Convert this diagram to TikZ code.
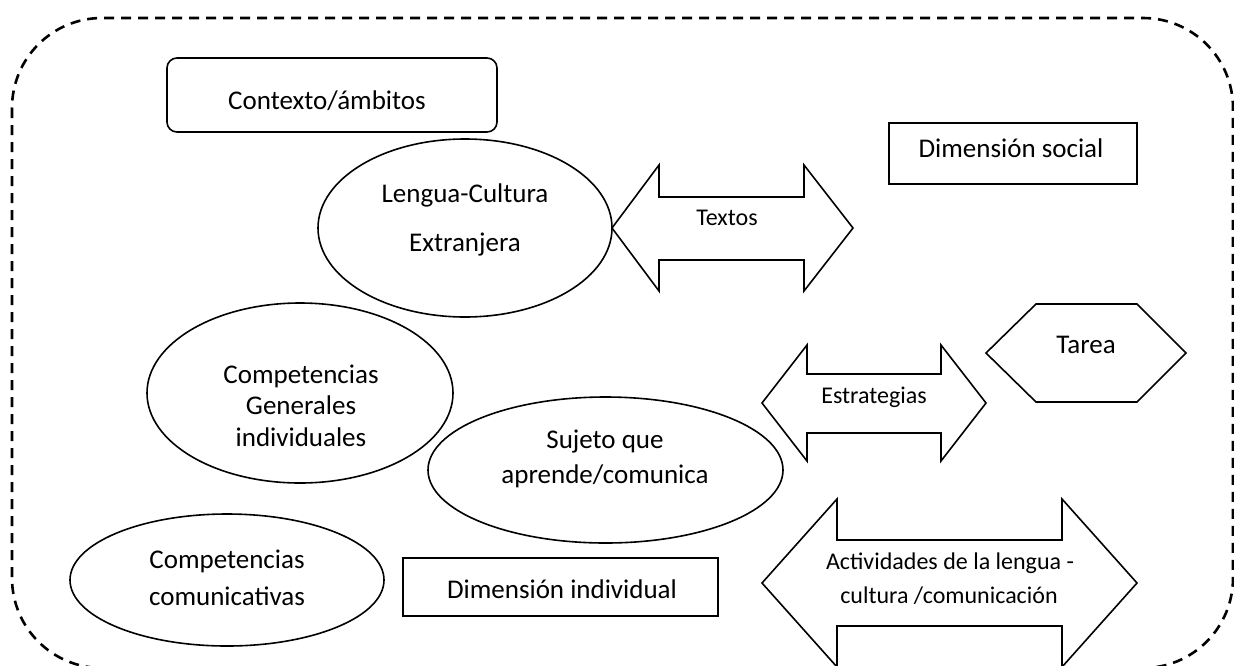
\documentclass[tikz,border=0pt]{standalone}
\usepackage{fontspec}
\setmainfont{Carlito}
\usetikzlibrary{shapes.geometric}
\begin{document}
\begin{tikzpicture}[x=1pt,y=-1pt,
  outline/.style={draw=black, line width=1.6pt, line join=miter},
  ell/.style={outline, ellipse, inner sep=0pt},
  boxnode/.style={outline, rectangle, inner sep=0pt},
  border/.style={draw=black, line width=2.6pt, dash pattern=on 10pt off 7pt, rounded corners=90pt},
  txt/.style={font=\fontsize{27}{33}\selectfont, inner sep=0pt, anchor=base},
  atxt/.style={font=\fontsize{24}{30}\selectfont, inner sep=0pt, anchor=base}]
\useasboundingbox (0,0) rectangle (1234,665);

% dashed outer frame (its lower edge lies just below the picture)
\draw[border] (12,18) rectangle (1233,668);

% Contexto/ambitos
\node[boxnode, rounded corners=10pt, minimum width=330pt, minimum height=74pt] (ctxbox) at (332,95) {};
\node[txt] (ctx) at (327,109) {Contexto/ámbitos};

% Dimension social
\node[boxnode, minimum width=248pt, minimum height=61pt] (dsbox) at (1013,153.5) {};
\node[txt] (ds) at (1011,157) {Dimensión social};

% Lengua-Cultura Extranjera
\node[ell, minimum width=294pt, minimum height=178pt] (lce) at (465,228) {};
\node[txt] (lce1) at (465,202) {Lengua-Cultura};
\node[txt] (lce2) at (465,251) {Extranjera};

% Textos arrow
\draw[outline] (612,228) -- (659,165) -- (659,197) -- (804,197) -- (804,165) -- (853,228)
  -- (804,291) -- (804,260) -- (659,260) -- (659,291) -- cycle;
\node[atxt] (textos) at (727,225) {Textos};

% Tarea hexagon
\draw[outline] (986,353) -- (1036,304) -- (1137,304) -- (1186,353) -- (1137,402) -- (1036,402) -- cycle;
\node[txt] (tarea) at (1086,353) {Tarea};

% Estrategias arrow
\draw[outline] (762,403) -- (807,345) -- (807,374) -- (941,374) -- (941,345) -- (986,403)
  -- (941,461) -- (941,433) -- (807,433) -- (807,461) -- cycle;
\node[atxt] (estr) at (874,403) {Estrategias};

% Competencias Generales individuales
\node[ell, minimum width=306pt, minimum height=180pt] (cgi) at (300,393) {};
\node[txt] (cgi1) at (301,383) {Competencias};
\node[txt] (cgi2) at (301,414) {Generales};
\node[txt] (cgi3) at (301,446) {individuales};

% Sujeto que aprende/comunica
\node[ell, minimum width=355pt, minimum height=146pt] (suj) at (605.5,470) {};
\node[txt] (suj1) at (605,448) {Sujeto que};
\node[txt] (suj2) at (605,483) {aprende/comunica};

% Competencias comunicativas
\node[ell, minimum width=314pt, minimum height=132pt] (cc) at (227,580) {};
\node[txt] (cc1) at (227,568) {Competencias};
\node[txt] (cc2) at (227,605) {comunicativas};

% Dimension individual
\node[boxnode, minimum width=315pt, minimum height=58pt] (dibox) at (560.5,587) {};
\node[txt] (di) at (562,598) {Dimensión individual};

% Actividades arrow
\draw[outline] (762,583) -- (837,499) -- (837,540) -- (1062,540) -- (1062,499) -- (1137,583)
  -- (1062,667) -- (1062,626) -- (837,626) -- (837,667) -- cycle;
\node[atxt] (act1) at (950,569) {Actividades de la lengua -};
\node[atxt] (act2) at (949,603) {cultura /comunicación};
\end{tikzpicture}
\end{document}
